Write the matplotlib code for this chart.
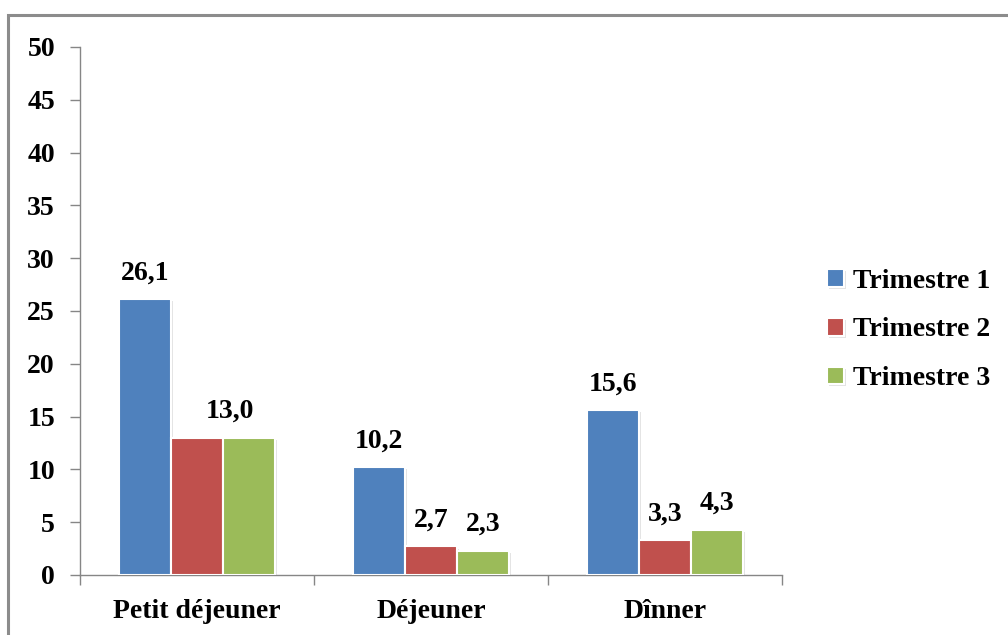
import numpy as np
import matplotlib.pyplot as plt
import matplotlib.patheffects as pe
from matplotlib.patches import Rectangle

plt.switch_backend('Agg')

# données
categories = ["Petit déjeuner", "Déjeuner", "Dînner"]
series = ["Trimestre 1", "Trimestre 2", "Trimestre 3"]
trimestre_1 = [26.1, 10.2, 15.6]
trimestre_2 = [13.0, 2.7, 3.3]
trimestre_3 = [13.0, 2.3, 4.3]
y_ticks = [0, 5, 10, 15, 20, 25, 30, 35, 40, 45, 50]

colors = ["#4F81BD", "#C0504D", "#9BBB59"]
values = [trimestre_1, trimestre_2, trimestre_3]

plt.rcParams['font.family'] = ['Liberation Serif', 'DejaVu Serif']
plt.rcParams['font.weight'] = 'bold'
FS = 20

fig = plt.figure(figsize=(10.08, 6.35), dpi=100)
# cadre gris autour du graphique
fig.patches.append(Rectangle((8 / 1008, -0.1), 1.2, (635 - 15) / 635 + 0.1,
                             transform=fig.transFigure, fill=False,
                             edgecolor="#8c8c8c", linewidth=2.2))

ax = fig.add_axes([80 / 1008, (635 - 575) / 635, (782 - 80) / 1008, (575 - 47) / 635])

x = np.arange(len(categories))
width = 0.222
shadow = [pe.SimplePatchShadow(offset=(1.5, -1.5), shadow_rgbFace="#bbbbbb", alpha=0.4), pe.Normal()]

bars = []
for i, (vals, col, name) in enumerate(zip(values, colors, series)):
    b = ax.bar(x + (i - 1) * width, vals, width, color=col, edgecolor="white",
               linewidth=1.5, label=name, zorder=3)
    for r in b:
        r.set_path_effects(shadow)
    bars.append(b)

# étiquettes de valeurs (13,0 commun aux trimestres 2 et 3 du petit déjeuner)
for i, b in enumerate(bars):
    for j, r in enumerate(b):
        v = values[i][j]
        dx = 0
        if j == 0 and i == 1:
            continue
        if j == 0 and i == 2:
            dx = -14
        ax.annotate(f"{v:.1f}".replace(".", ","),
                    (r.get_x() + r.get_width() / 2, v),
                    xytext=(dx, 19), textcoords="offset points",
                    ha="center", va="center", fontsize=FS, fontweight="bold")

ax.set_xlim(-0.5, 2.5)
ax.set_ylim(0, 50)
ax.set_yticks(y_ticks)
ax.set_yticklabels([str(t) for t in y_ticks], fontsize=FS, fontweight="bold")
ax.tick_params(axis="y", length=7, width=1, color="#868686", pad=11)

ax.set_xticks([-0.5, 0.5, 1.5, 2.5])
ax.set_xticklabels([])
ax.tick_params(axis="x", which="major", length=7, width=1, color="#868686")
ax.set_xticks(x, minor=True)
ax.set_xticklabels(categories, minor=True, fontsize=FS, fontweight="bold")
ax.tick_params(axis="x", which="minor", length=0, pad=17)

for s in ["top", "right"]:
    ax.spines[s].set_visible(False)
for s in ["left", "bottom"]:
    ax.spines[s].set_color("#868686")
    ax.spines[s].set_linewidth(1)

leg = ax.legend(loc="center left", bbox_to_anchor=(827 / 1008, (635 - 330) / 635),
                bbox_transform=fig.transFigure, frameon=False,
                prop={"weight": "bold", "size": FS}, borderpad=0, borderaxespad=0,
                handlelength=0.6, handleheight=0.6, handletextpad=0.35,
                labelspacing=0.85)

fig.savefig("out.png", dpi=100)
